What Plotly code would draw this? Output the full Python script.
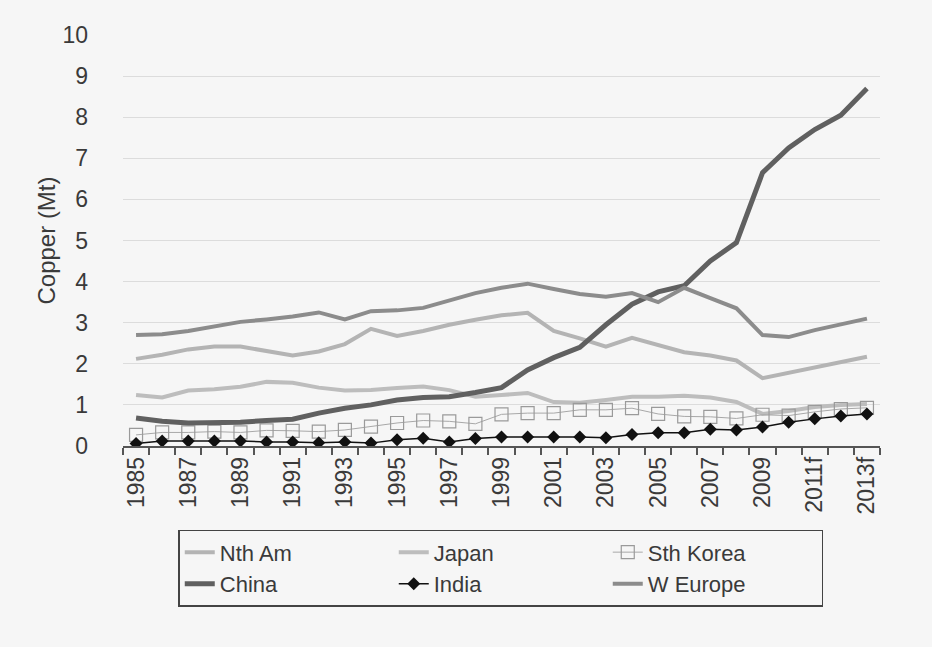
import plotly.graph_objects as go

# Copper consumption by region, million tonnes (f = forecast)
years = ["1985", "1986", "1987", "1988", "1989", "1990", "1991", "1992", "1993", "1994",
         "1995", "1996", "1997", "1998", "1999", "2000", "2001", "2002", "2003", "2004",
         "2005", "2006", "2007", "2008", "2009", "2010", "2011f", "2012f", "2013f"]

nth_am = [2.12, 2.22, 2.35, 2.42, 2.42, 2.32, 2.20, 2.30, 2.48, 2.85,
          2.68, 2.80, 2.95, 3.07, 3.18, 3.24, 2.80, 2.62, 2.42, 2.63,
          2.45, 2.28, 2.20, 2.08, 1.65, 1.78, 1.92, 2.05, 2.17]

japan = [1.24, 1.18, 1.35, 1.38, 1.44, 1.56, 1.54, 1.42, 1.35, 1.36,
         1.41, 1.45, 1.36, 1.20, 1.24, 1.29, 1.07, 1.05, 1.12, 1.20,
         1.20, 1.22, 1.18, 1.07, 0.78, 0.85, 0.95, 1.00, 1.02]

sth_korea = [0.27, 0.33, 0.33, 0.35, 0.33, 0.38, 0.37, 0.35, 0.39, 0.47,
             0.56, 0.62, 0.60, 0.54, 0.77, 0.80, 0.80, 0.88, 0.88, 0.92,
             0.78, 0.72, 0.71, 0.67, 0.76, 0.74, 0.83, 0.90, 0.93]

china = [0.68, 0.60, 0.56, 0.56, 0.58, 0.62, 0.65, 0.80, 0.92, 1.00,
         1.12, 1.18, 1.20, 1.30, 1.42, 1.85, 2.15, 2.40, 2.95, 3.45,
         3.75, 3.90, 4.50, 4.95, 6.65, 7.25, 7.70, 8.05, 8.70]

india = [0.06, 0.12, 0.12, 0.12, 0.12, 0.10, 0.10, 0.08, 0.10, 0.07,
         0.15, 0.19, 0.10, 0.18, 0.22, 0.22, 0.22, 0.22, 0.20, 0.28,
         0.32, 0.32, 0.41, 0.39, 0.46, 0.58, 0.66, 0.73, 0.78]

w_europe = [2.70, 2.72, 2.80, 2.90, 3.02, 3.08, 3.15, 3.25, 3.08, 3.28,
            3.30, 3.36, 3.55, 3.72, 3.85, 3.95, 3.82, 3.70, 3.63, 3.72,
            3.50, 3.85, 3.60, 3.35, 2.70, 2.65, 2.82, 2.95, 3.10]

x = list(range(len(years)))
label_idx = x[::2]

fig = go.Figure()

fig.add_trace(go.Scatter(x=x, y=nth_am, name="Nth Am", mode="lines",
                         line=dict(color="#b4b4b4", width=4)))
fig.add_trace(go.Scatter(x=x, y=japan, name="Japan", mode="lines",
                         line=dict(color="#bdbdbd", width=4)))
fig.add_trace(go.Scatter(x=x, y=sth_korea, name="Sth Korea", mode="lines+markers",
                         line=dict(color="#a8a8a8", width=1),
                         marker=dict(symbol="square-open", size=13,
                                     color="#9a9a9a", line=dict(width=1.2))))
fig.add_trace(go.Scatter(x=x, y=china, name="China", mode="lines",
                         line=dict(color="#606060", width=5)))
fig.add_trace(go.Scatter(x=x, y=india, name="India", mode="lines+markers",
                         line=dict(color="#111111", width=1.5),
                         marker=dict(symbol="diamond", size=10, color="#111111")))
fig.add_trace(go.Scatter(x=x, y=w_europe, name="W Europe", mode="lines",
                         line=dict(color="#8c8c8c", width=4)))

fig.update_layout(
    width=932, height=647,
    margin=dict(l=123, r=52, t=35, b=201),
    paper_bgcolor="#f6f6f6",
    plot_bgcolor="#f6f6f6",
    font=dict(family="Liberation Sans, Arial, sans-serif", color="#3a3a3a", size=20),
    showlegend=True,
    legend=dict(
        orientation="h",
        x=0.073, xanchor="left",
        y=-0.204, yanchor="top",
        bordercolor="#444444", borderwidth=1.5,
        bgcolor="rgba(0,0,0,0)",
        font=dict(size=22, color="#3a3a3a"),
        entrywidth=169,
        tracegroupgap=0,
    ),
    xaxis=dict(
        range=[-0.5, len(years) - 0.5],
        tickmode="array",
        tickvals=label_idx,
        ticktext=[years[i] for i in label_idx],
        tickangle=-90,
        ticks="",
        showgrid=False,
        zeroline=False,
        showline=True, linecolor="#555555", linewidth=1.5,
        tickfont=dict(size=23, color="#3a3a3a"),
        minor=dict(tickmode="linear", tick0=-0.5, dtick=1,
                   ticks="outside", ticklen=7, tickwidth=1.5,
                   tickcolor="#555555", showgrid=False),
    ),
    yaxis=dict(
        range=[0, 10],
        tickmode="linear", tick0=0, dtick=1,
        showgrid=True, gridcolor="#dcdcdc", gridwidth=1,
        zeroline=False,
        showline=False,
        ticks="",
        ticklabelstandoff=34,
        tickfont=dict(size=23, color="#3a3a3a"),
        title=dict(text="Copper (Mt)", font=dict(size=24, color="#3a3a3a"), standoff=0),
    ),
)

fig.write_html("out.html")
